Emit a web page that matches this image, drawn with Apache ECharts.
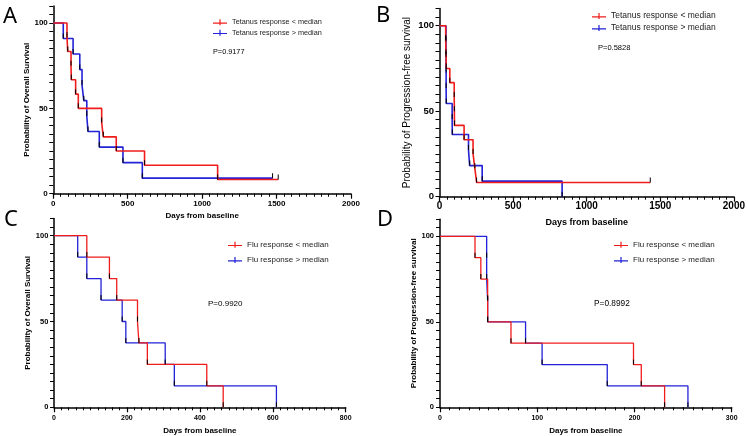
<!DOCTYPE html>
<head>
    <meta charset="utf-8">
    <title>Kaplan-Meier panels</title>
    <style>
        body { margin: 0; background: #fff; }
        #chart { width: 748px; height: 436px; }
    </style>
</head>
<body>
    <div id="chart"></div>

    <script src="https://cdn.jsdelivr.net/npm/echarts@6/dist/echarts.min.js"></script>

    <script type="text/javascript">

// Panel A - tetanus, overall survival
    var aLowDays  = [0, 92, 97, 119, 121, 150, 168, 325, 336, 423, 613, 1104, 1511];
    var aLowSurv  = [100, 91.7, 83.3, 75, 66.7, 58.3, 50, 41.7, 33.3, 25, 16.7, 8.3, 8.3];
    var aHighDays = [0, 67, 133, 178, 193, 205, 225, 233, 309, 468, 598, 1473];
    var aHighSurv = [100, 90.9, 81.8, 72.7, 63.6, 54.5, 45.5, 36.4, 27.3, 18.2, 9.1, 9.1];

// Panel B - tetanus, progression-free survival
    var bLowDays  = [0, 42, 44, 46, 70, 100, 101, 102, 167, 228, 240, 252, 1432];
    var bLowSurv  = [100, 91.7, 83.3, 75, 66.7, 58.3, 50, 41.7, 33.3, 25, 16.7, 8.3, 8.3];
    var bHighDays = [0, 44, 44, 45, 45, 46, 86, 87, 197, 205, 290, 833];
    var bHighSurv = [100, 90.9, 81.8, 72.7, 63.6, 54.5, 45.5, 36.4, 27.3, 18.2, 9.1, 0];

// Panel C - flu, overall survival
    var cLowDays  = [0, 90, 152, 172, 229, 233, 256, 419, 464];
    var cLowSurv  = [100, 87.5, 75, 62.5, 50, 37.5, 25, 12.5, 0];
    var cHighDays = [0, 65, 90, 129, 187, 197, 305, 330, 610];
    var cHighSurv = [100, 87.5, 75, 62.5, 50, 37.5, 25, 12.5, 0];

// Panel D - flu, progression-free survival
    var dLowDays  = [0, 36, 42, 49, 49, 73, 199, 207, 231];
    var dLowSurv  = [100, 87.5, 75, 62.5, 50, 37.5, 25, 12.5, 0];
    var dHighDays = [0, 48, 48, 49, 49, 88, 105, 172, 255];
    var dHighSurv = [100, 87.5, 75, 62.5, 50, 37.5, 25, 12.5, 0];

    var yTicks = [0, 50, 100];

    var RED = '#f01c1c';
    var BLUE = '#2222d6';
    var FONT = 'Liberation Sans';
    // legend mark: short line with a censor tick
    var KM_ICON = 'path://M0,3.2H14V4.4H0Z M6.4,0H7.6V3.2H6.4Z M6.4,4.4H7.6V6H6.4Z';

    // step curve points, first point gets no censor tick
    function km(days, surv) {
        return days.map(function (d, i) {
            if (i === 0) return { value: [d, surv[i]], symbol: 'none' };
            return [d, surv[i]];
        });
    }

    function curve(name, idx, days, surv, color, width) {
        return {
            name: name,
            type: 'line',
            step: 'end',
            xAxisIndex: idx,
            yAxisIndex: idx,
            data: km(days, surv),
            lineStyle: { color: color, width: width },
            itemStyle: { color: '#000' },
            symbol: 'rect',
            symbolSize: [1, 5],
            symbolOffset: [0, -2.5],
            showAllSymbol: true,
            emphasis: { disabled: true }
        };
    }

    function xAxis(idx, max, step, fs, nameFs, labelGap, nameGap) {
        return {
            gridIndex: idx,
            type: 'value',
            min: 0,
            max: max,
            interval: step,
            name: 'Days from baseline',
            nameLocation: 'middle',
            nameGap: nameGap,
            nameTextStyle: { color: '#000', fontFamily: FONT, fontWeight: 'bold', fontSize: nameFs },
            axisLine: { show: true, onZero: false, lineStyle: { color: '#000', width: 1.5 } },
            axisTick: { show: true, length: 5, lineStyle: { color: '#000', width: 1.2 } },
            minorTick: { show: true, splitNumber: 10, length: 3, lineStyle: { color: '#000', width: 1 } },
            axisLabel: {
                color: '#000', fontFamily: FONT, fontWeight: 'bold', fontSize: fs, margin: labelGap,
                formatter: function (v) { return String(v); }
            },
            splitLine: { show: false }
        };
    }

    function yAxis(idx, name, fs, nameFs, nameBold, labelGap, nameGap) {
        return {
            gridIndex: idx,
            type: 'value',
            min: 0,
            max: 110,
            interval: 10,
            name: name,
            nameLocation: 'middle',
            nameGap: nameGap,
            nameTextStyle: { color: '#000', fontFamily: FONT, fontWeight: nameBold ? 'bold' : 'normal', fontSize: nameFs },
            axisLine: { show: true, onZero: false, lineStyle: { color: '#000', width: 1.5 } },
            axisTick: { show: true, length: 4, lineStyle: { color: '#000', width: 1 } },
            minorTick: { show: true, splitNumber: 2, length: 4, lineStyle: { color: '#000', width: 1 } },
            axisLabel: {
                color: '#000', fontFamily: FONT, fontWeight: 'bold', fontSize: fs, margin: labelGap,
                formatter: function (v) { return yTicks.indexOf(v) >= 0 ? String(v) : ''; }
            },
            splitLine: { show: false }
        };
    }

    function legend(names, left, top, fs, lh, gap) {
        return {
            data: [
                { name: names[0], icon: KM_ICON, itemStyle: { color: RED } },
                { name: names[1], icon: KM_ICON, itemStyle: { color: BLUE } }
            ],
            orient: 'vertical',
            left: left,
            top: top,
            padding: 0,
            itemWidth: 14,
            itemHeight: 6,
            itemGap: gap,
            selectedMode: false,
            textStyle: { color: '#222', fontFamily: FONT, fontSize: fs, lineHeight: lh }
        };
    }

    function label(text, left, top, fs, family) {
        return {
            text: text,
            left: left,
            top: top,
            padding: 0,
            textStyle: { color: '#000', fontFamily: family || FONT, fontWeight: 'normal', fontSize: fs }
        };
    }

    var tetLow = 'Tetanus response < median';
    var tetHigh = 'Tetanus response > median';
    var fluLow = 'Flu response < median';
    var fluHigh = 'Flu response > median';

    var myChart = echarts.init(document.getElementById('chart'), null, { renderer: 'canvas' });

    myChart.setOption({
        animation: false,
        backgroundColor: '#fff',
        title: [
            label('A', 3, 6, 22, 'Noto Sans'),
            label('B', 376, 5, 22, 'Noto Sans'),
            label('C', 4, 209, 22, 'Noto Sans'),
            label('D', 377, 209, 22, 'Noto Sans'),
            label('P=0.9177', 213, 48, 7.3),
            label('P=0.5828', 598, 44, 7.5),
            label('P=0.9920', 208, 300, 8),
            label('P=0.8992', 594, 300, 8.3)
        ],
        legend: [
            legend([tetLow, tetHigh], 213, 18.3, 7.3, 8, 2.4),
            legend([tetLow, tetHigh], 592, 11.5, 8.5, 9, 3),
            legend([fluLow, fluHigh], 228, 240.7, 8, 8, 7.3),
            legend([fluLow, fluHigh], 614, 240.7, 8, 8, 7.3)
        ],
        grid: [
            { left: 53.3, top: 5.9, width: 297.7, height: 187.8 },
            { left: 439.5, top: 8.6, width: 298.8, height: 188.1 },
            { left: 54, top: 218.5, width: 291.7, height: 188.8 },
            { left: 440, top: 219.2, width: 291.7, height: 188.1 }
        ],
        xAxis: [
            xAxis(0, 2000, 500, 8, 8, 6, 18),
            xAxis(1, 2000, 500, 10, 9, 4.5, 21),
            xAxis(2, 800, 200, 7, 8, 7, 19),
            xAxis(3, 300, 100, 7, 8, 7, 19)
        ],
        yAxis: [
            yAxis(0, 'Probability of Overall Survival', 8, 8, true, 5.5, 22.6),
            yAxis(1, 'Probability of Progression-free survival', 9.5, 10, false, 5.5, 27),
            yAxis(2, 'Probability of Overall Survival', 7.5, 8, true, 5.7, 21.7),
            yAxis(3, 'Probability of Progression-free survival', 7.5, 8, true, 6, 22)
        ],
        series: [
            curve(tetHigh, 0, aHighDays, aHighSurv, BLUE, 1.6),
            curve(tetLow, 0, aLowDays, aLowSurv, RED, 1.6),
            curve(tetHigh, 1, bHighDays, bHighSurv, BLUE, 1.6),
            curve(tetLow, 1, bLowDays, bLowSurv, RED, 1.6),
            curve(fluHigh, 2, cHighDays, cHighSurv, BLUE, 1.3),
            curve(fluLow, 2, cLowDays, cLowSurv, RED, 1.3),
            curve(fluHigh, 3, dHighDays, dHighSurv, BLUE, 1.3),
            curve(fluLow, 3, dLowDays, dLowSurv, RED, 1.3)
        ]
    });

    </script>
</body>
